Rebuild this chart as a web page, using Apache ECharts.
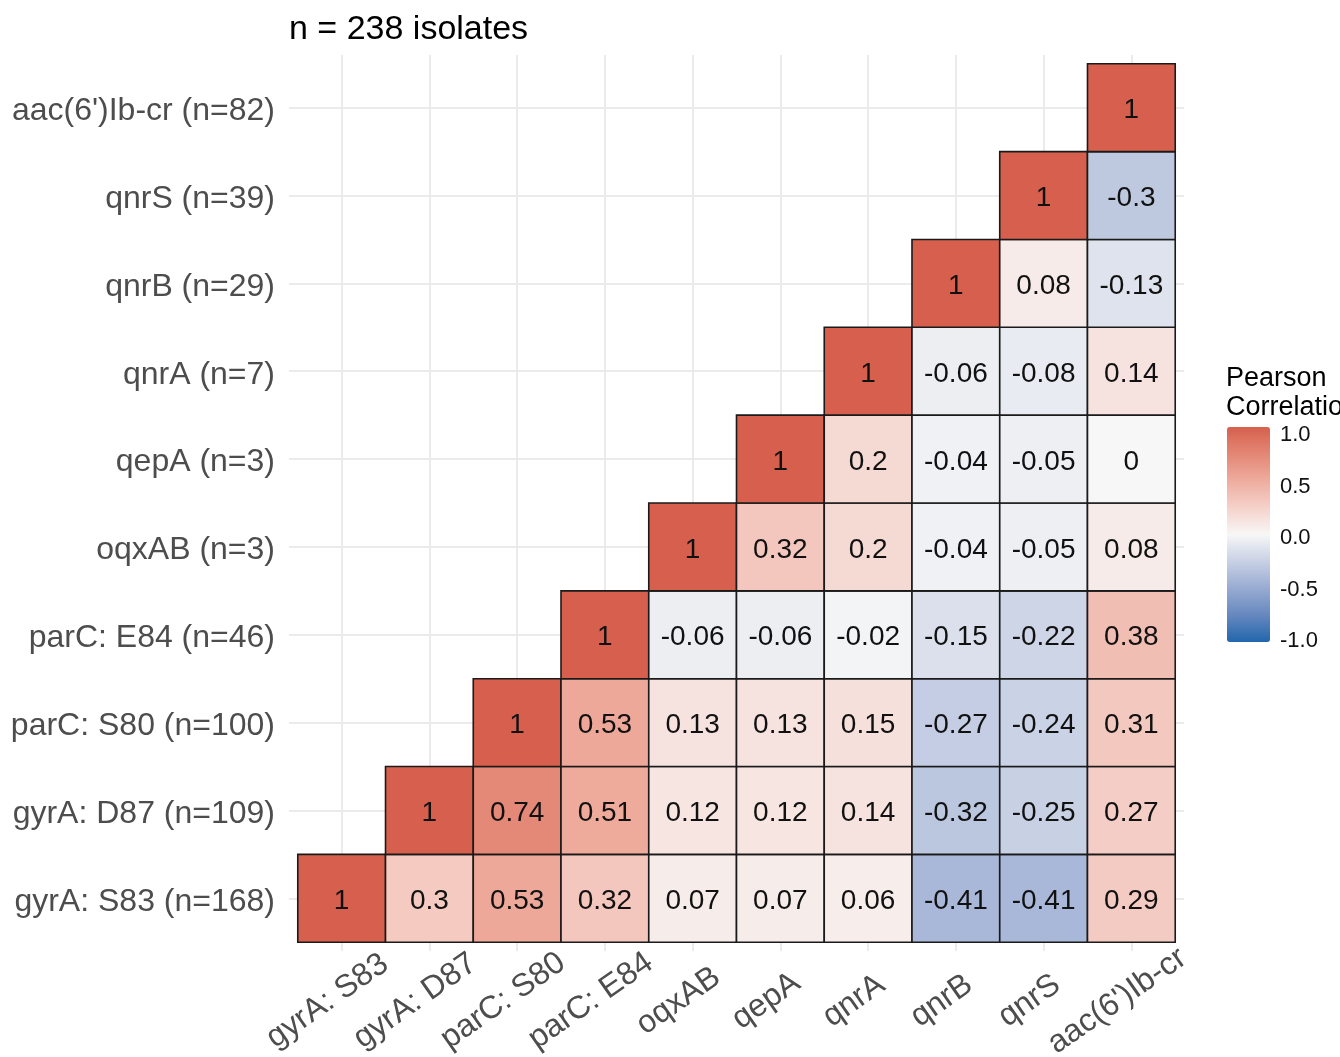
<!DOCTYPE html>
<html>
<head>
<meta charset="utf-8">
<script src="https://cdn.jsdelivr.net/npm/echarts@6/dist/echarts.min.js"></script>
<style>html,body{margin:0;padding:0;background:#fff;}#chart{width:1340px;height:1057px;}</style>
</head>
<body>
<div id="chart"></div>
<script>
// ---- data ----
const xCategories = ['gyrA: S83', 'gyrA: D87', 'parC: S80', 'parC: E84', 'oqxAB', 'qepA', 'qnrA', 'qnrB', 'qnrS', "aac(6')Ib-cr"];
const yCategories = ['gyrA: S83 (n=168)', 'gyrA: D87 (n=109)', 'parC: S80 (n=100)', 'parC: E84 (n=46)', 'oqxAB (n=3)', 'qepA (n=3)', 'qnrA (n=7)', 'qnrB (n=29)', 'qnrS (n=39)', "aac(6')Ib-cr (n=82)"];
// each row starts at its diagonal cell (x index = row index)
const rowGyrAS83 = [1, 0.3, 0.53, 0.32, 0.07, 0.07, 0.06, -0.41, -0.41, 0.29];
const rowGyrAD87 = [1, 0.74, 0.51, 0.12, 0.12, 0.14, -0.32, -0.25, 0.27];
const rowParCS80 = [1, 0.53, 0.13, 0.13, 0.15, -0.27, -0.24, 0.31];
const rowParCE84 = [1, -0.06, -0.06, -0.02, -0.15, -0.22, 0.38];
const rowOqxAB = [1, 0.32, 0.2, -0.04, -0.05, 0.08];
const rowQepA = [1, 0.2, -0.04, -0.05, 0];
const rowQnrA = [1, -0.06, -0.08, 0.14];
const rowQnrB = [1, 0.08, -0.13];
const rowQnrS = [1, -0.3];
const rowAac = [1];
const corrRows = [rowGyrAS83, rowGyrAD87, rowParCS80, rowParCE84, rowOqxAB, rowQepA, rowQnrA, rowQnrB, rowQnrS, rowAac];
const legendMin = -1, legendMax = 1, legendStep = 0.5;
const titleText = 'n = 238 isolates';
const legendTitle = 'Pearson\nCorrelation';

// ---- build ----
const cells = [];
corrRows.forEach((row, i) => row.forEach((v, k) => cells.push([i + k, i, v])));

const FONT = 'Liberation Sans, Arial, sans-serif';
const X_LABEL_SHIFT = -0.16;
const idx = xCategories.map((_, i) => i);

const chart = echarts.init(document.getElementById('chart'), null, {renderer: 'canvas'});
chart.setOption({
  backgroundColor: '#ffffff',
  animation: false,
  title: [
    {text: titleText, left: 289, top: 13, padding: 0,
     textStyle: {fontFamily: FONT, fontSize: 34, fontWeight: 'normal', color: '#000'}},
    {text: legendTitle, left: 1226, top: 364, padding: 0,
     textStyle: {fontFamily: FONT, fontSize: 27, lineHeight: 29, fontWeight: 'normal', color: '#000'}}
  ],
  grid: [
    {left: 289, top: 55, width: 895, height: 896, containLabel: false, outerBoundsMode: 'none'},
    {left: 1227, top: 431, width: 43, height: 206, containLabel: false, outerBoundsMode: 'none'}
  ],
  xAxis: [
    {type: 'value', gridIndex: 0, min: -0.6, max: 9.6,
     axisLine: {show: false}, axisTick: {show: false}, splitLine: {show: false},
     axisLabel: {customValues: idx.map(i => i + X_LABEL_SHIFT),
       formatter: v => xCategories[Math.round(v - X_LABEL_SHIFT)],
       rotate: 35, align: 'center', verticalAlign: 'middle', margin: 50,
       fontFamily: FONT, fontSize: 32, color: '#4d4d4d'}},
    {type: 'value', gridIndex: 1, min: 0, max: 1, show: false}
  ],
  yAxis: [
    {type: 'value', gridIndex: 0, min: -0.6, max: 9.6,
     axisLine: {show: false}, axisTick: {show: false}, splitLine: {show: false},
     axisLabel: {customValues: idx, formatter: v => yCategories[Math.round(v)],
       margin: 14, verticalAlign: 'top', lineHeight: 7, fontFamily: FONT, fontSize: 32, color: '#4d4d4d'}},
    {type: 'value', gridIndex: 1, position: 'right', min: legendMin, max: legendMax, interval: legendStep,
     axisLine: {show: false}, splitLine: {show: false},
     axisTick: {show: true, inside: true, length: 8, lineStyle: {color: '#ffffff', width: 1.5}},
     axisLabel: {margin: 10, verticalAlign: 'top', lineHeight: 8, formatter: v => v.toFixed(1),
       fontFamily: FONT, fontSize: 22, color: '#111'}},
    {type: 'value', gridIndex: 1, position: 'left', min: legendMin, max: legendMax, interval: legendStep,
     axisLine: {show: false}, splitLine: {show: false}, axisLabel: {show: false},
     axisTick: {show: true, inside: true, length: 8, lineStyle: {color: '#ffffff', width: 1.5}}}
  ],
  visualMap: {
    type: 'continuous', min: legendMin, max: legendMax, dimension: 2, seriesIndex: 0,
    calculable: false, hoverLink: false, show: true,
    left: 1222, top: 422, itemWidth: 43, itemHeight: 215, padding: 5,
    textStyle: {color: 'transparent'},
    inRange: {color: ['#2166AC', '#6688BF', '#98ABD2', '#C8D0E4', '#F7F7F7', '#F5D1CA', '#EEAC9E', '#E48775', '#D6604D']}
  },
  series: [
    {
      type: 'custom', xAxisIndex: 0, yAxisIndex: 0, z: 3,
      data: cells,
      encode: {x: 0, y: 1},
      renderItem: function (params, api) {
        const x = api.value(0), y = api.value(1), v = api.value(2);
        const p0 = api.coord([x - 0.5, y + 0.5]);
        const p1 = api.coord([x + 0.5, y - 0.5]);
        return {
          type: 'group',
          children: [
            {type: 'rect', shape: {x: p0[0], y: p0[1], width: p1[0] - p0[0], height: p1[1] - p0[1]},
             style: {fill: api.visual('color'), stroke: '#1a1a1a', lineWidth: 1.6}},
            {type: 'text', style: {text: String(v), x: (p0[0] + p1[0]) / 2, y: (p0[1] + p1[1]) / 2 + 3,
              align: 'center', verticalAlign: 'middle', fontFamily: FONT, fontSize: 28, fill: '#111'}}
          ]
        };
      }
    },
    {
      type: 'line', xAxisIndex: 0, yAxisIndex: 0, data: [], z: 1, silent: true,
      markLine: {
        silent: true, symbol: 'none', z: 1, animation: false,
        label: {show: false},
        lineStyle: {color: '#EBEBEB', width: 2, type: 'solid'},
        data: idx.map(i => ({xAxis: i})).concat(idx.map(i => ({yAxis: i})))
      }
    }
  ]
});
</script>
</body>
</html>
